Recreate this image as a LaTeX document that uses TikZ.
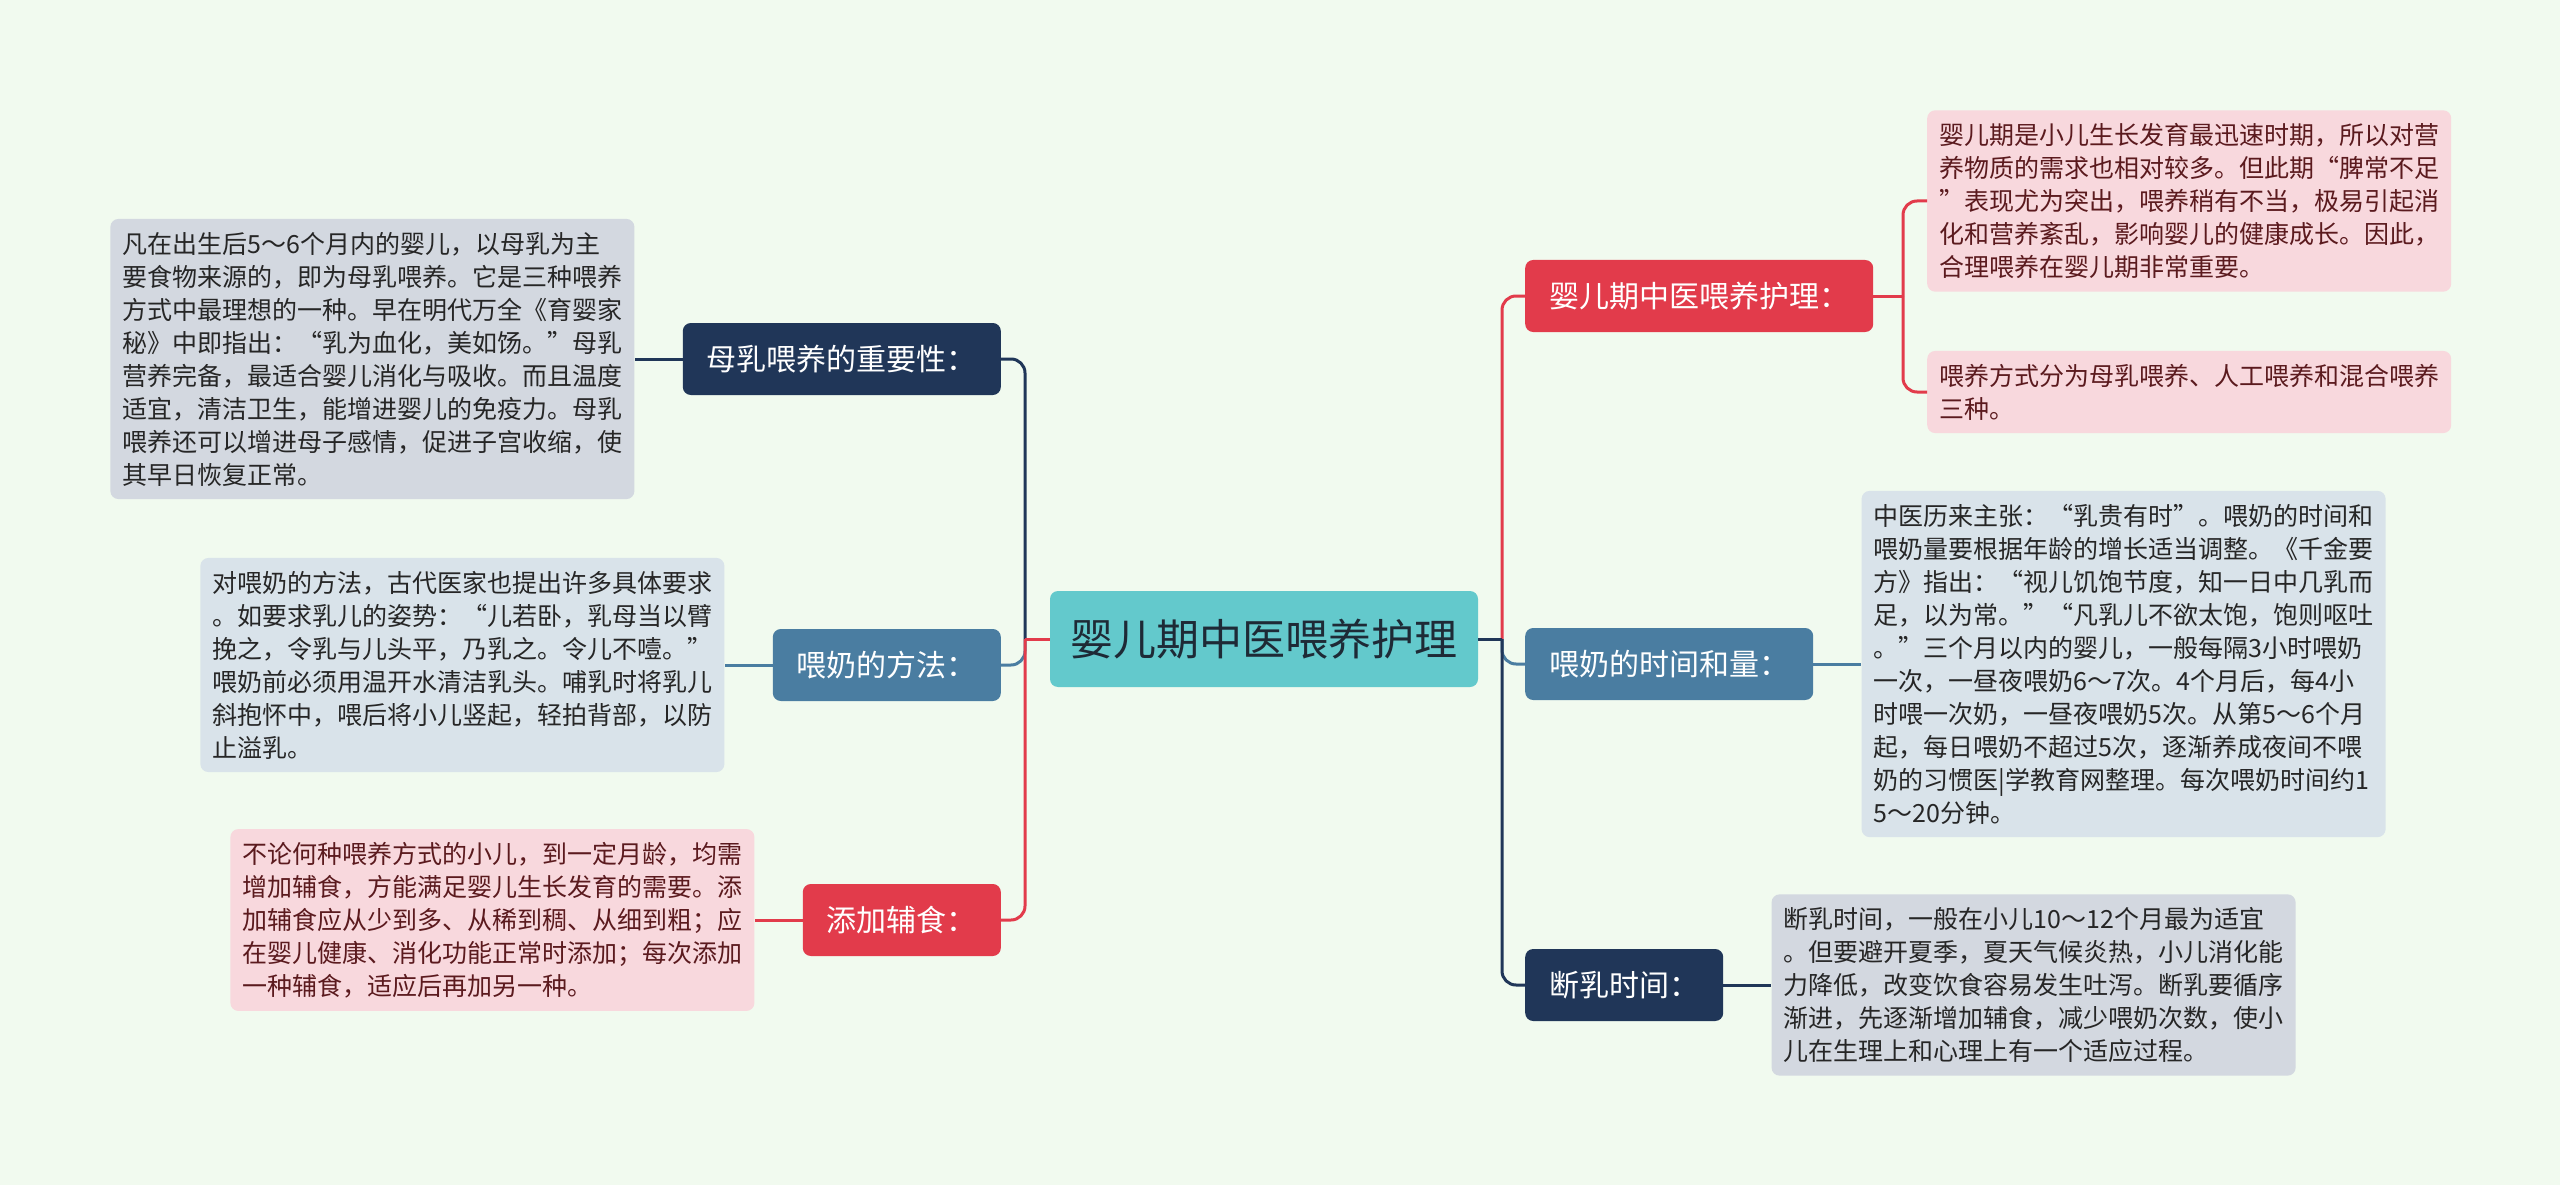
\documentclass[tikz,border=0pt]{standalone}
\usepackage{fontspec}
\newfontfamily\cjk{Noto Sans CJK SC}
\usepackage{tikz}
\usetikzlibrary{shapes,arrows,positioning}

\definecolor{bgmint}{HTML}{F1FAEF}
\definecolor{rootfill}{HTML}{63C9CC}
\definecolor{rootink}{HTML}{1E2A36}
\definecolor{navyc}{HTML}{203658}
\definecolor{steelc}{HTML}{4A7DA1}
\definecolor{redc}{HTML}{E23B4B}
\definecolor{navyleaf}{HTML}{D3D8E0}
\definecolor{steelleaf}{HTML}{D9E3EA}
\definecolor{redleaf}{HTML}{F8D8DD}
\definecolor{leafink}{HTML}{262626}
\definecolor{redink}{HTML}{5B1A1E}

\tikzset{
  root/.style={fill=rootfill, text=rootink, rounded corners=8pt,
    font=\cjk\fontsize{43pt}{50pt}\selectfont, minimum width=428pt, minimum height=96pt},
  topic/.style={text=white, rounded corners=8pt, font=\cjk\fontsize{30pt}{36pt}\selectfont,
    minimum height=72pt, inner xsep=24pt, inner ysep=0pt},
  leaf/.style={rounded corners=8pt, font=\cjk\fontsize{25pt}{33pt}\selectfont,
    text width=500pt, align=left, inner xsep=12pt, inner ysep=13pt},
  link/.style={line width=3pt},
}

\begin{document}
\begin{tikzpicture}[x=1pt,y=-1pt]
\fill[bgmint] (0,0) rectangle (2560,1185);
\useasboundingbox (0,0) rectangle (2560,1185);

\node[root] (root) at (1264,639) {婴儿期中医喂养护理};
\coordinate (lhub) at (1025,639);
\coordinate (rhub) at (1502,639);

\node[topic, fill=navyc, anchor=east] (milk) at (1001,359) {母乳喂养的重要性：};
\node[topic, fill=steelc, anchor=east] (method) at (1001,665) {喂奶的方法：};
\node[topic, fill=redc, anchor=east] (solid) at (1001,920) {添加辅食：};
\node[topic, fill=redc, anchor=west] (care) at (1525,296) {婴儿期中医喂养护理：};
\node[topic, fill=steelc, anchor=west] (timing) at (1525,664) {喂奶的时间和量：};
\node[topic, fill=navyc, anchor=west] (wean) at (1525,985) {断乳时间：};

\node[leaf, fill=navyleaf, text=leafink, left=48pt of milk] (milkleaf) {凡在出生后5～6个月内的婴儿，以母乳为主\\要食物来源的，即为母乳喂养。它是三种喂养\\方式中最理想的一种。早在明代万全《育婴家\\秘》中即指出：“乳为血化，美如饧。”母乳\\营养完备，最适合婴儿消化与吸收。而且温度\\适宜，清洁卫生，能增进婴儿的免疫力。母乳\\喂养还可以增进母子感情，促进子宫收缩，使\\其早日恢复正常。};
\node[leaf, fill=steelleaf, text=leafink, left=48pt of method] (methodleaf) {对喂奶的方法，古代医家也提出许多具体要求\\。如要求乳儿的姿势：“儿若卧，乳母当以臂\\挽之，令乳与儿头平，乃乳之。令儿不噎。”\\喂奶前必须用温开水清洁乳头。哺乳时将乳儿\\斜抱怀中，喂后将小儿竖起，轻拍背部，以防\\止溢乳。};
\node[leaf, fill=redleaf, text=redink, left=48pt of solid] (solidleaf) {不论何种喂养方式的小儿，到一定月龄，均需\\增加辅食，方能满足婴儿生长发育的需要。添\\加辅食应从少到多、从稀到稠、从细到粗；应\\在婴儿健康、消化功能正常时添加；每次添加\\一种辅食，适应后再加另一种。};
\node[leaf, fill=redleaf, text=redink, anchor=west] (careA) at (1927,201) {婴儿期是小儿生长发育最迅速时期，所以对营\\养物质的需求也相对较多。但此期“脾常不足\\”表现尤为突出，喂养稍有不当，极易引起消\\化和营养紊乱，影响婴儿的健康成长。因此，\\合理喂养在婴儿期非常重要。};
\node[leaf, fill=redleaf, text=redink, anchor=west] (careB) at (1927,392) {喂养方式分为母乳喂养、人工喂养和混合喂养\\三种。};
\node[leaf, fill=steelleaf, text=leafink, right=48pt of timing] (timingleaf) {中医历来主张：“乳贵有时”。喂奶的时间和\\喂奶量要根据年龄的增长适当调整。《千金要\\方》指出：“视儿饥饱节度，知一日中几乳而\\足，以为常。”“凡乳儿不欲太饱，饱则呕吐\\。”三个月以内的婴儿，一般每隔3小时喂奶\\一次，一昼夜喂奶6～7次。4个月后，每4小\\时喂一次奶，一昼夜喂奶5次。从第5～6个月\\起，每日喂奶不超过5次，逐渐养成夜间不喂\\奶的习惯医|学教育网整理。每次喂奶时间约1\\5～20分钟。};
\node[leaf, fill=navyleaf, text=leafink, right=48pt of wean] (weanleaf) {断乳时间，一般在小儿10～12个月最为适宜\\。但要避开夏季，夏天气候炎热，小儿消化能\\力降低，改变饮食容易发生吐泻。断乳要循序\\渐进，先逐渐增加辅食，减少喂奶次数，使小\\儿在生理上和心理上有一个适应过程。};
\coordinate (csplit) at (1903,296);

\draw[link, navyc, rounded corners=14pt] (lhub) |- (milk.east);
\draw[link, steelc, rounded corners=14pt] (lhub) |- (method.east);
\draw[link, redc, rounded corners=14pt] (lhub) |- (solid.east);
\draw[link, redc] (root.west) -- (lhub);
\draw[link, redc, rounded corners=14pt] (rhub) |- (care.west);
\draw[link, steelc, rounded corners=14pt] (rhub) |- (timing.west);
\draw[link, navyc, rounded corners=14pt] (rhub) |- (wean.west);
\draw[link, navyc] (root.east) -- (rhub);

\draw[link, navyc] (milk.west) -- (milkleaf.east);
\draw[link, steelc] (method.west) -- (methodleaf.east);
\draw[link, redc] (solid.west) -- (solidleaf.east);
\draw[link, redc] (care.east) -- (csplit);
\draw[link, redc, rounded corners=14pt] (csplit) |- (careA.west);
\draw[link, redc, rounded corners=14pt] (csplit) |- (careB.west);
\draw[link, steelc] (timing.east) -- (timingleaf.west);
\draw[link, navyc] (wean.east) -- (weanleaf.west);
\end{tikzpicture}
\end{document}
